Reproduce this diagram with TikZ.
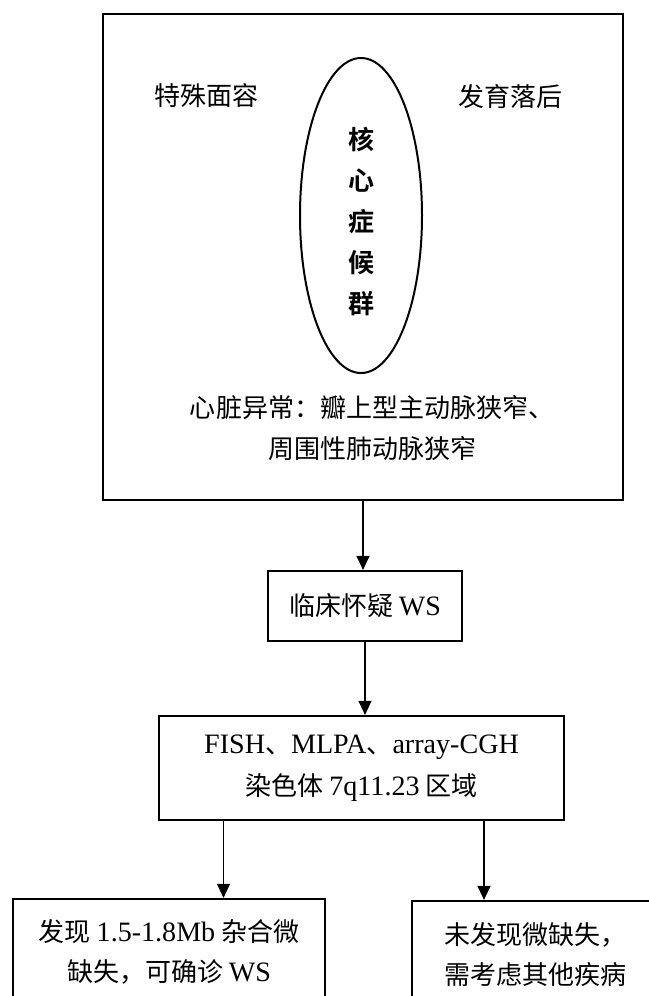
\documentclass[tikz,border=0pt]{standalone}
\usepackage{fontspec}
\setmainfont{Liberation Serif}[Scale=1.08]
\newfontfamily\cjk{Noto Sans CJK SC}[BoldFont={Noto Sans CJK SC Bold}]
\newcommand\lat[1]{{\rmfamily #1}}
\usetikzlibrary{arrows.meta,shapes.geometric}
\begin{document}
\begin{tikzpicture}[x=1bp,y=-1bp,
  box/.style={draw,line width=2.2bp,inner sep=0pt,align=center},
  arr/.style={line width=1.3bp,-{Triangle[width=13bp,length=14bp]}},
  txt/.style={font=\fontsize{26bp}{40bp}\selectfont\cjk,inner sep=0pt,align=center}]
\clip (0,0) rectangle (649,996);
\fill[white] (0,0) rectangle (649,996);
% core box
\node[box,minimum width=520bp,minimum height=486bp] (core) at (363,257) {};
\node[draw,line width=2bp,ellipse,minimum width=122bp,minimum height=315bp,inner sep=0pt] (ell) at (361,215.5) {};
\node[font=\fontsize{26bp}{41bp}\selectfont\cjk\bfseries,align=center,inner sep=0pt] (elltxt) at (361,221) {核\\心\\症\\候\\群};
\node[txt] (face) at (206,96) {特殊面容};
\node[txt] (dev) at (510,97) {发育落后};
\node[txt,font=\fontsize{26bp}{41bp}\selectfont\cjk] (heart) at (372,428) {心脏异常：瓣上型主动脉狭窄、\\周围性肺动脉狭窄};
% flow
\node[box,txt,minimum width=194bp,minimum height=70bp] (lc) at (365,606) {临床怀疑 \lat{WS}};
\node[box,txt,font=\fontsize{26bp}{42bp}\selectfont\cjk,minimum width=405bp,minimum height=104bp] (fish) at (361.5,768) {\lat{FISH}、\lat{MLPA}、\lat{array-CGH}\\染色体 \lat{7q11.23} 区域};
\node[box,txt,minimum width=312bp,minimum height=106bp] (yes) at (169,952) {发现 \lat{1.5-1.8Mb} 杂合微\\缺失，可确诊 \lat{WS}};
\node[box,txt,minimum width=246bp,minimum height=108bp] (no) at (535,955) {未发现微缺失，\\需考虑其他疾病};
% arrows
\coordinate (la) at (223.5,0);
\coordinate (ra) at (484,0);
\draw[arr] (core.south) -- (core.south |- lc.north);
\draw[arr] (lc.south) -- (lc.south |- fish.north);
\draw[arr] (fish.south -| la) -- (yes.north -| la);
\draw[arr] (fish.south -| ra) -- (no.north -| ra);
\end{tikzpicture}
\end{document}
